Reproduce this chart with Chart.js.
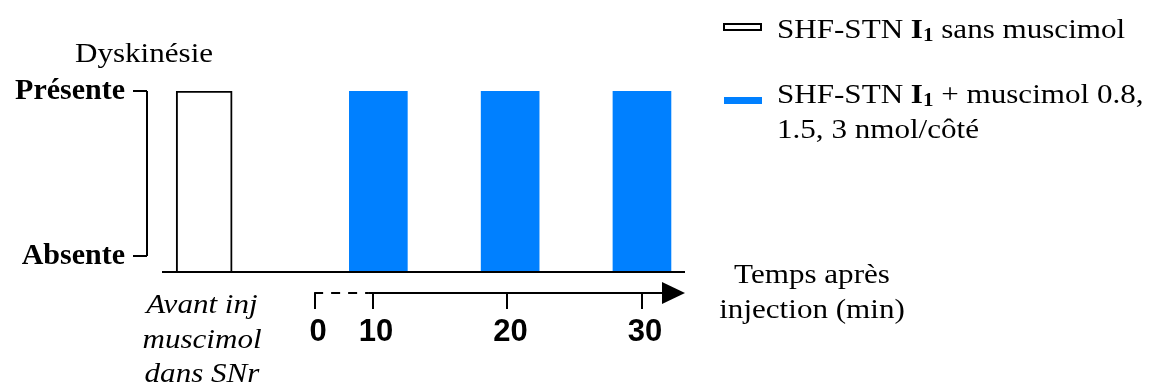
<!DOCTYPE html>
<html>
<head>
<meta charset="utf-8">
<script src="https://cdn.jsdelivr.net/npm/chart.js@4.4.1/dist/chart.umd.min.js"></script>
<style>
  html, body { margin: 0; padding: 0; background: #fff; }
  #wrap { width: 1158px; height: 388px; }
</style>
</head>
<body>
<div id="wrap"><canvas id="c" width="1158" height="388"></canvas></div>
<script>
// Créneau "avant injection" (position sur l'axe du temps) et présence de dyskinésie
const avantPos = [-2.55];
const avantPresence = [1];
// Temps après injection (min) et présence de dyskinésie
const tempsMin = [10.4, 20.2, 30];
const musciPresence = [1, 1, 1];
// Graduations
const timeTicks = [0, 10, 20, 30];
const yTickLabels = ['Absente', 'Présente'];
// Légende (texte riche : I en gras avec indice)
const legendSans = [{ t: 'SHF-STN ' }, { t: 'I', b: true }, { t: '1', b: true, sub: true }, { t: ' sans muscimol' }];
const legendAvec = [{ t: 'SHF-STN ' }, { t: 'I', b: true }, { t: '1', b: true, sub: true }, { t: ' + muscimol 0.8,' }];
const legendAvec2 = '1.5, 3 nmol/côté';
const avantLines = ['Avant inj', 'muscimol', 'dans SNr'];
const tempsTitle = ['Temps après', 'injection (min)'];

const BLUE = '#0080ff';
const SERIF = '"Liberation Serif", "Times New Roman", serif';
const SANS = '"Liberation Sans", Arial, sans-serif';
const SX = 1.11;          // étirement horizontal du texte
const FS = 28;            // taille du texte courant
const BASE = -0.097;      // ligne de base des barres
const AXIS_BREAK = 5.7;   // emplacement du "0" (axe interrompu)
const SOLID_FROM = 9.7;

function txt(ctx, s, x, y, font, align, sx) {
  ctx.save();
  ctx.font = font;
  ctx.fillStyle = '#000';
  ctx.textBaseline = 'alphabetic';
  ctx.textAlign = align || 'left';
  ctx.translate(x, y);
  ctx.scale(sx || SX, 1);
  ctx.fillText(s, 0, 0);
  ctx.restore();
}

function rich(ctx, parts, x, y) {
  let cx = x;
  parts.forEach(p => {
    const font = (p.b ? 'bold ' : '') + (p.sub ? 19 : FS) + 'px ' + SERIF;
    ctx.save();
    ctx.font = font;
    const w = ctx.measureText(p.t).width * SX;
    ctx.restore();
    txt(ctx, p.t, cx, y + (p.sub ? 3 : 0), font, 'left');
    cx += w;
  });
}

const decor = {
  id: 'decor',
  afterDraw(chart) {
    const { ctx, chartArea: a, scales: { x, y } } = chart;
    ctx.save();
    ctx.strokeStyle = '#000';
    ctx.lineWidth = 2;

    // crochet de l'axe Y
    ctx.beginPath();
    ctx.moveTo(a.left, y.getPixelForValue(1));
    ctx.lineTo(a.left, y.getPixelForValue(0));
    ctx.stroke();

    // ligne de base des barres
    const yb = y.getPixelForValue(BASE);
    ctx.beginPath();
    ctx.moveTo(a.left + 15, yb);
    ctx.lineTo(a.right, yb);
    ctx.stroke();

    // flèche du temps
    const ya = a.bottom;
    const x0 = x.getPixelForValue(AXIS_BREAK);
    const x1 = x.getPixelForValue(SOLID_FROM);
    ctx.setLineDash([9, 8]);
    ctx.beginPath();
    ctx.moveTo(x0 - 1, ya);
    ctx.lineTo(x1, ya);
    ctx.stroke();
    ctx.setLineDash([]);
    ctx.beginPath();
    ctx.moveTo(x1, ya);
    ctx.lineTo(a.right - 22, ya);
    ctx.stroke();
    ctx.fillStyle = '#000';
    ctx.beginPath();
    ctx.moveTo(a.right - 23, ya - 11);
    ctx.lineTo(a.right, ya);
    ctx.lineTo(a.right - 23, ya + 11);
    ctx.closePath();
    ctx.fill();
    ctx.restore();

    // textes
    txt(ctx, 'Dyskinésie', 144, 62, FS + 'px ' + SERIF, 'center');
    avantLines.forEach((s, i) => txt(ctx, s, 202, 313 + i * 34.5, 'italic ' + FS + 'px ' + SERIF, 'center'));
    tempsTitle.forEach((s, i) => txt(ctx, s, 812, 283 + i * 35, FS + 'px ' + SERIF, 'center'));

    // légende
    ctx.save();
    ctx.strokeStyle = '#000';
    ctx.lineWidth = 2;
    ctx.fillStyle = '#fff';
    ctx.fillRect(724, 24, 37, 6);
    ctx.strokeRect(724, 24, 37, 6);
    ctx.fillStyle = BLUE;
    ctx.fillRect(724, 97, 38, 7);
    ctx.restore();
    rich(ctx, legendSans, 777, 38);
    rich(ctx, legendAvec, 777, 103);
    txt(ctx, legendAvec2, 777, 138, FS + 'px ' + SERIF, 'left');
  }
};

new Chart(document.getElementById('c'), {
  type: 'bar',
  data: {
    datasets: [
      {
        label: 'SHF-STN I1 sans muscimol',
        data: avantPos.map((p, i) => ({ x: p, y: avantPresence[i] })),
        backgroundColor: '#fff',
        borderColor: '#000',
        borderWidth: 2,
        base: BASE,
        barThickness: 56,
        grouped: false
      },
      {
        label: 'SHF-STN I1 + muscimol 0.8, 1.5, 3 nmol/côté',
        data: tempsMin.map((t, i) => ({ x: t, y: musciPresence[i] })),
        backgroundColor: BLUE,
        borderWidth: 0,
        base: BASE,
        barThickness: 58,
        grouped: false
      }
    ]
  },
  options: {
    responsive: false,
    animation: false,
    layout: { padding: { left: 0, right: 473, top: 91, bottom: 0 } },
    plugins: { legend: { display: false }, tooltip: { enabled: false } },
    scales: {
      x: {
        type: 'linear',
        offset: false,
        min: -6.8,
        max: 33.2,
        afterBuildTicks: s => { s.ticks = timeTicks.map(t => ({ value: t === 0 ? AXIS_BREAK : t })); },
        afterFit: s => { s.height = 95; },
        border: { display: false },
        grid: { offset: false, drawOnChartArea: false, drawTicks: true, tickLength: 16, color: '#000', lineWidth: 2 },
        ticks: {
          autoSkip: false,
          maxRotation: 0,
          padding: 5,
          labelOffset: 3,
          color: '#000',
          font: { family: SANS, size: 31, weight: 'bold' },
          callback: v => (v === AXIS_BREAK ? '0' : String(v))
        }
      },
      y: {
        min: -0.225,
        max: 1,
        afterBuildTicks: s => { s.ticks = [{ value: 0 }, { value: 1 }]; },
        afterFit: s => { s.width = 147; },
        border: { display: false },
        grid: { drawOnChartArea: false, drawTicks: true, tickLength: 14, color: '#000', lineWidth: 2 },
        ticks: {
          padding: 8,
          color: '#000',
          font: { family: SERIF, size: 30, weight: 'bold' },
          callback: v => yTickLabels[v]
        }
      }
    }
  },
  plugins: [decor]
});
</script>
</body>
</html>
